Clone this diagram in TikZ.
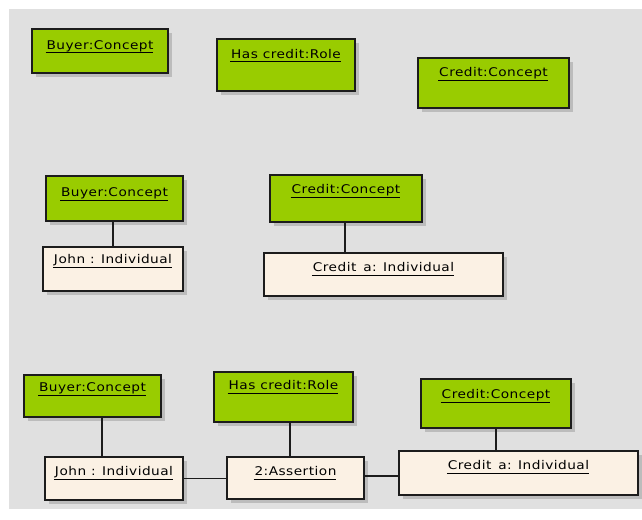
\documentclass[tikz,border=0pt]{standalone}
\usepackage{fontspec}
\newfontfamily\lblfont{DejaVu Sans}[LetterSpace=4, FakeStretch=1.14]
\usetikzlibrary{shadows}
\definecolor{canvasgray}{RGB}{224,224,224}
\definecolor{conceptgreen}{RGB}{153,204,0}
\definecolor{instcream}{RGB}{251,241,228}
\definecolor{edgedark}{RGB}{28,28,28}
\definecolor{shadowgray}{RGB}{188,188,188}

\tikzset{
  objbox/.style={draw=edgedark, line width=1.2pt, inner sep=0pt, outer sep=0pt,
    drop shadow={shadow xshift=4pt, shadow yshift=-4pt, fill=shadowgray, opacity=1}},
  concept/.style={objbox, fill=conceptgreen},
  instance/.style={objbox, fill=instcream},
  lbl/.style={inner sep=0pt, outer sep=0pt, font=\lblfont\fontsize{12}{14}\selectfont, text=black},
  uline/.style={draw=black, line width=1pt},
  link/.style={draw=edgedark, line width=1.2pt},
}

% underscore lowered onto the underline
\newcommand\lowscore{\raisebox{-2.4pt}{\_}}

% \objnode{name}{style}{left}{top}{right}{bottom}{underline offset from top}{text}
\newcommand\objnode[8]{%
  \node[#2, minimum width={(#5-#3)*1pt}, minimum height={(#6-#4)*1pt}]
    (#1) at ({(#3+#5)/2},{(#4+#6)/2}) {};
  \node[lbl, anchor=base] (#1t) at ([yshift={-(#7-3.5)*1pt}]#1.north) {#8};
  \draw[uline] ([xshift=-1pt,yshift=-3.5pt]#1t.base west) -- ([xshift=0pt,yshift=-3.5pt]#1t.base east);
}

\begin{document}
\begin{tikzpicture}[x=1pt, y=-1pt]
  \useasboundingbox (0,0) rectangle (642,519);
  \fill[canvasgray] (9,9) rectangle (642,509);

  % first group: unrelated concept and role boxes
  \objnode{aBuyer}{concept}{32}{29}{168}{73}{24}{Buyer:Concept}
  \objnode{aRole}{concept}{217}{39}{355}{91}{23}{Has credit:Role}
  \objnode{aCredit}{concept}{418}{58}{569}{108}{22}{Credit:Concept}

  % second group: concepts with their individuals
  \objnode{bBuyer}{concept}{46}{176}{183}{221}{24}{Buyer:Concept}
  \objnode{bJohn}{instance}{43}{247}{183}{291}{20}{John : Individual}
  \objnode{bCredit}{concept}{270}{175}{422}{222}{22}{Credit:Concept}
  \objnode{bCreditA}{instance}{264}{253}{503}{296}{22}{Credit\lowscore a: Individual}

  \draw[link] (bJohn.north) -- (bJohn.north |- bBuyer.south);
  \draw[link] ([xshift=-38.5pt]bCreditA.north) -- ([xshift=-38.5pt]bCreditA.north |- bCredit.south);

  % third group: the assertion linking individuals through the role
  \objnode{cBuyer}{concept}{24}{375}{161}{417}{20}{Buyer:Concept}
  \objnode{cJohn}{instance}{45}{457}{183}{500}{22}{John : Individual}
  \objnode{cRole}{concept}{214}{372}{353}{422}{21}{Has credit:Role}
  \objnode{cAssert}{instance}{227}{457}{364}{499}{22}{2:Assertion}
  \objnode{cCredit}{concept}{421}{379}{571}{428}{23}{Credit:Concept}
  \objnode{cCreditA}{instance}{399}{451}{638}{495}{22}{Credit\lowscore a: Individual}

  \draw[link] ([xshift=9.5pt]cBuyer.south) -- ([xshift=9.5pt]cBuyer.south |- cJohn.north);
  \draw[link] ([xshift=6.5pt]cRole.south) -- ([xshift=6.5pt]cRole.south |- cAssert.north);
  \draw[link] (cCredit.south) -- (cCredit.south |- cCreditA.north);
  \draw[link] (cJohn.east) -- (cJohn.east -| cAssert.west);
  \draw[link] ([yshift=2pt]cAssert.east) -- ([yshift=2pt]cAssert.east -| cCreditA.west);
\end{tikzpicture}
\end{document}
